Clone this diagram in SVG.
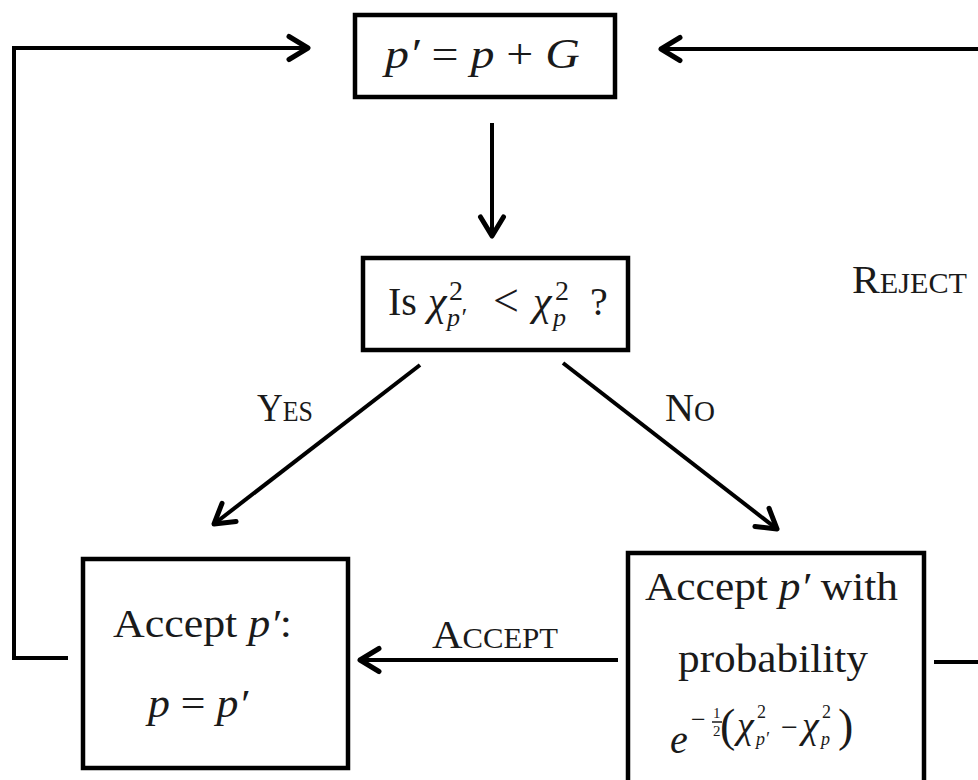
<svg xmlns="http://www.w3.org/2000/svg" width="978" height="780" viewBox="0 0 978 780">
<style>
text{font-family:"Liberation Serif","Times New Roman",serif;fill:#1a1a1a}
.box{fill:#fff;stroke:#000;stroke-width:4.5}
.ln{fill:none;stroke:#000;stroke-width:4;stroke-linejoin:miter}
.it{font-style:italic}
</style>
<defs>
<marker id="ah" markerWidth="30" markerHeight="30" refX="22" refY="15" orient="auto" markerUnits="userSpaceOnUse">
<path d="M3,3.5 L22,15 L3,26.5" fill="none" stroke="#000" stroke-width="5" stroke-linecap="round" stroke-linejoin="round"/>
</marker>
</defs>
<rect width="978" height="780" fill="#fff"/>
<g id="connectors">
<path class="ln" d="M68,658 H14 V48 H308" marker-end="url(#ah)"/>
<path class="ln" d="M982,49 H661" marker-end="url(#ah)"/>
<path class="ln" d="M492,123 V236" marker-end="url(#ah)"/>
<path class="ln" d="M420,365 L214,524" marker-end="url(#ah)"/>
<path class="ln" d="M563,363 L777,529" marker-end="url(#ah)"/>
<path class="ln" d="M618,660 H360" marker-end="url(#ah)"/>
<path class="ln" d="M934,662 H982"/>
<text x="257" y="421" font-size="40" textLength="56" lengthAdjust="spacingAndGlyphs">Y<tspan font-size="29">ES</tspan></text>
<text x="665" y="421" font-size="40" textLength="50" lengthAdjust="spacingAndGlyphs">N<tspan font-size="29">O</tspan></text>
<text x="432" y="648" font-size="40" textLength="126" lengthAdjust="spacingAndGlyphs">A<tspan font-size="29">CCEPT</tspan></text>
<text x="852" y="293" font-size="40" textLength="115" lengthAdjust="spacingAndGlyphs">R<tspan font-size="29">EJECT</tspan></text>
</g>
<g id="update">
<rect class="box" x="355" y="15" width="260" height="82"/>
<text x="385" y="68" font-size="42" textLength="195" lengthAdjust="spacingAndGlyphs"><tspan class="it">p′</tspan> = <tspan class="it">p</tspan> +  <tspan class="it">G</tspan></text>
</g>
<g id="test">
<rect class="box" x="363" y="258" width="265" height="92"/>
<text x="388" y="315" font-size="40">Is</text>
<text x="428" y="315" font-size="42" class="it">χ</text>
<text x="449" y="300" font-size="28">2</text>
<text x="447" y="326" font-size="26" class="it">p′</text>
<text x="493" y="316" font-size="46">&lt;</text>
<text x="533" y="315" font-size="42" class="it">χ</text>
<text x="555" y="300" font-size="28">2</text>
<text x="553" y="326" font-size="26" class="it">p</text>
<text x="590" y="315" font-size="40">?</text>
</g>
<g id="accept">
<rect class="box" x="83" y="559" width="265" height="209"/>
<text x="113" y="637" font-size="40" textLength="179" lengthAdjust="spacingAndGlyphs">Accept <tspan class="it">p′</tspan>:</text>
<text x="148" y="717" font-size="40" textLength="100" lengthAdjust="spacingAndGlyphs"><tspan class="it">p</tspan> = <tspan class="it">p′</tspan></text>
</g>
<g id="maybe">
<rect class="box" x="628" y="553" width="296" height="240"/>
<text x="645" y="600" font-size="40" textLength="253" lengthAdjust="spacingAndGlyphs">Accept <tspan class="it">p′</tspan> with</text>
<text x="678" y="672" font-size="40" textLength="190" lengthAdjust="spacingAndGlyphs">probability</text>
<text x="670" y="753" font-size="40" class="it">e</text>
<text x="691" y="728" font-size="26">−</text>
<text x="713" y="718" font-size="15">1</text>
<line x1="712" y1="722" x2="722" y2="722" stroke="#1a1a1a" stroke-width="1.5"/>
<text x="713" y="736" font-size="15">2</text>
<text x="720" y="741" font-size="46">(</text>
<text x="737" y="738" font-size="38" class="it">χ</text>
<text x="757" y="718" font-size="18">2</text>
<text x="756" y="745" font-size="18" class="it">p′</text>
<text x="781" y="737" font-size="30">−</text>
<text x="802" y="738" font-size="38" class="it">χ</text>
<text x="822" y="718" font-size="18">2</text>
<text x="821" y="745" font-size="18" class="it">p</text>
<text x="838" y="741" font-size="46">)</text>
</g>
</svg>
